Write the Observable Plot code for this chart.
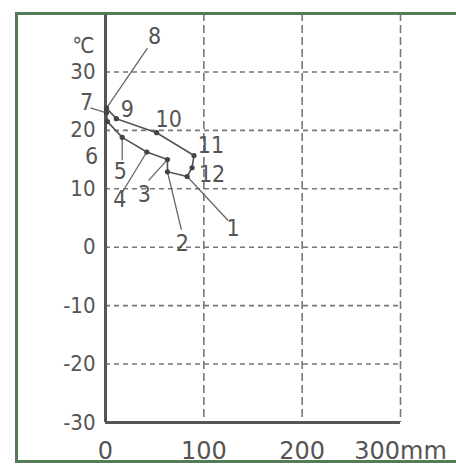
<!DOCTYPE html>
<html>
<head>
<meta charset="utf-8">
<script src="https://cdn.jsdelivr.net/npm/d3@7"></script>
<script src="https://cdn.jsdelivr.net/npm/@observablehq/plot@0.6"></script>
<style>
  html, body { margin: 0; padding: 0; background: #fff; }
  #wrap { position: relative; width: 456px; height: 464px; overflow: hidden; }
  #frame { position: absolute; left: 15px; top: 12px; width: 470px; height: 451px;
           box-sizing: border-box; border: 3px solid #557a57; border-right: none; pointer-events: none; }
</style>
</head>
<body>
<div id="wrap"><div id="chart"></div><div id="frame"></div></div>
<script>
// ---- data ----
const months = [1, 2, 3, 4, 5, 6, 7, 8, 9, 10, 11, 12];
const precipitation = [83, 63, 63, 42, 17, 2, 1, 1, 11, 52, 90, 88];      // mm
const temperature = [12.1, 12.9, 15.0, 16.3, 18.8, 21.5, 23.0, 23.8, 22.0, 19.6, 15.7, 13.6]; // ℃
const yTicks = [-30, -20, -10, 0, 10, 20, 30];
const xTicks = [0, 100, 200, 300];
const gridXTicks = [100, 200, 300];
const gridYTicks = [-20, -10, 0, 10, 20, 30];

// ---- layout (pixel offsets of month labels and leader ends, relative to each point) ----
const labelDx = [46, 15, -23, -27, -2, -16, -20, 48, 11, 12, 17, 20];
const labelDy = [52, 72, 35, 48, 34, 35, -10, -72, -9, -13, -10, 7];
const leadDx = [41, 14, -19, -25, 0, null, -16, 41, null, null, null, null];
const leadDy = [44, 58, 21, 41, 23, null, -5, -60, null, null, null, null];

const W = 456, H = 464, mL = 105, mR = 56, mT = 13, mB = 42;
const xDomain = [0, 300], yDomain = [-30, 40];
const pxPerX = (W - mL - mR) / (xDomain[1] - xDomain[0]);
const pxPerY = (H - mT - mB) / (yDomain[1] - yDomain[0]);

const rows = months.map((m, i) => ({
  m, p: precipitation[i], t: temperature[i],
  lx: precipitation[i] + labelDx[i] / pxPerX,
  ly: temperature[i] - labelDy[i] / pxPerY,
  ex: leadDx[i] == null ? null : precipitation[i] + leadDx[i] / pxPerX,
  ey: leadDy[i] == null ? null : temperature[i] - leadDy[i] / pxPerY
}));
const loop = [...rows, rows[0]];
const leaders = rows.filter(d => d.ex != null);

const ink = "#555";
const plot = Plot.plot({
  width: W, height: H,
  marginLeft: mL, marginRight: mR, marginTop: mT, marginBottom: mB,
  style: { color: ink, background: "transparent", fontFamily: "'DejaVu Sans Condensed', 'DejaVu Sans', sans-serif" },
  x: { domain: xDomain, label: null },
  y: { domain: yDomain, label: null },
  marks: [
    Plot.gridX(gridXTicks, { stroke: "#777", strokeOpacity: 1, strokeWidth: 1.6, strokeDasharray: "8,4" }),
    Plot.gridY(gridYTicks, { stroke: "#777", strokeOpacity: 1, strokeWidth: 1.6, strokeDasharray: "5,4" }),
    Plot.ruleX([0], { stroke: ink, strokeWidth: 3 }),
    Plot.ruleY([-30], { stroke: ink, strokeWidth: 3 }),
    Plot.axisY({ ticks: yTicks, tickSize: 0, tickPadding: 10, tickFormat: d => String(d), fontSize: 22, label: null }),
    Plot.axisX({ ticks: xTicks, tickSize: 0, tickPadding: 19, tickFormat: d => d === 300 ? "300mm" : String(d),
                 fontSize: 24, fontFamily: "DejaVu Sans", label: null }),
    Plot.text(["℃"], { frameAnchor: "top-left", dx: -11, dy: 24, fontSize: 22, fill: ink, textAnchor: "end" }),
    Plot.link(leaders, { x1: "p", y1: "t", x2: "ex", y2: "ey", stroke: "#666", strokeWidth: 1.3 }),
    Plot.line(loop, { x: "p", y: "t", stroke: ink, strokeWidth: 1.6 }),
    Plot.dot(rows, { x: "p", y: "t", r: 2.6, fill: "#444", stroke: "none" }),
    Plot.text(rows, { x: "lx", y: "ly", text: d => String(d.m), fontSize: 23, fill: ink,
                      textAnchor: "middle", lineAnchor: "middle" })
  ]
});
document.getElementById("chart").appendChild(plot);
</script>
</body>
</html>
